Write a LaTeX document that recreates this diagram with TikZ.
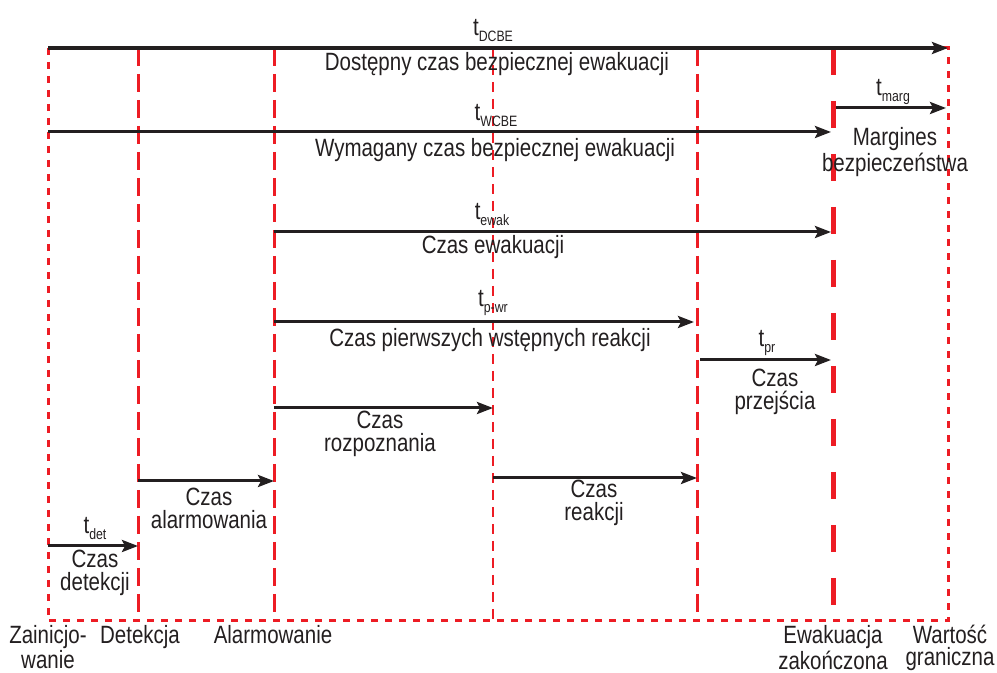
\documentclass[tikz,border=0pt]{standalone}
\usepackage{fontspec}
\setmainfont{Liberation Sans}[FakeStretch=0.82]
\usetikzlibrary{arrows.meta}
\definecolor{evred}{RGB}{237, 28, 36}
\definecolor{evblack}{RGB}{35, 31, 32}
\newcommand{\tsub}[1]{\raisebox{-3pt}{\fontsize{7.5}{7.5}\selectfont #1}}

\begin{document}
\begin{tikzpicture}[x=0.5pt, y=-0.5pt,
    every node/.style={text=evblack, font=\fontsize{12.5}{11.5}\selectfont, inner sep=0pt, align=center},
    timeline/.style={line width=1.5pt, evblack, -{Stealth[length=8pt, width=6pt, inset=1.5pt]}},
    border/.style={evred, line width=1.5pt, dash pattern=on 3.5pt off 3.5pt},
    phase/.style={evred, line width=1.5pt, dash pattern=on 9pt off 4pt},
    minor/.style={evred, line width=1.4pt, dash pattern=on 5pt off 3.5pt},
    finish/.style={evred, line width=2.5pt, dash pattern=on 13.5pt off 13pt}]
\useasboundingbox (0,0) rectangle (997,673);

% Frame and phase boundaries
\draw[border] (48,48) rectangle (948,621);
\foreach \x in {138,274,697}
    \draw[phase] (\x,48) -- (\x,621);
\draw[minor] (493,48) -- (493,621);
\draw[finish] (833,48) -- (833,621);

% Arrow end points
\coordinate (dcbeS) at (48,48);   \coordinate (dcbeE) at (948,48);
\coordinate (wcbeS) at (48,132);  \coordinate (wcbeE) at (831,132);
\coordinate (margS) at (836,108); \coordinate (margE) at (946,108);
\coordinate (ewakS) at (274,232); \coordinate (ewakE) at (831,232);
\coordinate (pwrS) at (274,322);  \coordinate (pwrE) at (694,322);
\coordinate (prS) at (700,360);   \coordinate (prE) at (831,360);
\coordinate (rozS) at (274,408);  \coordinate (rozE) at (493,408);
\coordinate (reakS) at (493,478); \coordinate (reakE) at (697,478);
\coordinate (alS) at (138,481);   \coordinate (alE) at (274,481);
\coordinate (detS) at (48,546);   \coordinate (detE) at (138,546);

% Time spans
\draw[timeline, line width=2pt] (dcbeS) -- (dcbeE);
\foreach \a/\b in {wcbeS/wcbeE, margS/margE, ewakS/ewakE, pwrS/pwrE, prS/prE, rozS/rozE, reakS/reakE, alS/alE, detS/detE}
    \draw[timeline] (\a) -- (\b);

% Labels
\node (dcbeT) at (493,30) {t\tsub{DCBE}};
\node (dcbeL) at (497,64) {Dostępny czas bezpiecznej ewakuacji};
\node (wcbeT) at (496,115) {t\tsub{WCBE}};
\node (wcbeL) at (495,150) {Wymagany czas bezpiecznej ewakuacji};
\node (margT) at (893,92) {t\tsub{marg}};
\node (margL) at (895,152) {Margines\\bezpieczeństwa};
\node (ewakT) at (492,214) {t\tsub{ewak}};
\node (ewakL) at (493,247) {Czas ewakuacji};
\node (pwrT) at (493,303) {t\tsub{p-wr}};
\node (pwrL) at (490,340) {Czas pierwszych wstępnych reakcji};
\node (prT) at (767,343) {t\tsub{pr}};
\node (prL) at (775,392) {Czas\\przejścia};
\node (rozL) at (380,434) {Czas\\rozpoznania};
\node (reakL) at (594,503) {Czas\\reakcji};
\node (alL) at (209,508) {Czas\\alarmowania};
\node (detT) at (95,528) {t\tsub{det}};
\node (detL) at (95,573) {Czas\\detekcji};

% Events
\foreach \x/\txt/\nm in {48/{Zainicjo-\\wanie}/evZ, 140/Detekcja/evD, 273/Alarmowanie/evA, 833/{Ewakuacja\\zakończona}/evE, 950/{Wartość\\graniczna}/evW}
    \node[anchor=north, font=\fontsize{12.5}{11}\selectfont] (\nm) at (\x,625) {\txt};
\end{tikzpicture}
\end{document}
